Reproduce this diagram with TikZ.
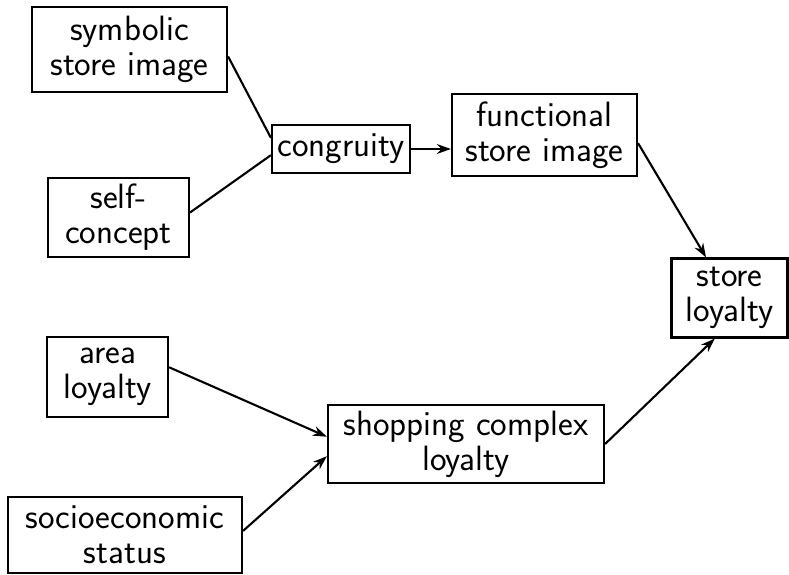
\documentclass[tikz,border=0pt]{standalone}
\usepackage{tikz}
\usetikzlibrary{arrows.meta}

\begin{document}
\begin{tikzpicture}[x=0.025cm,y=-0.025cm,
line width=1.5pt,
link/.style={-{Stealth[length=10pt,width=7pt]}},
]
\tikzstyle{every node}=[rectangle,draw,align=center,inner sep=2pt,
  font=\sffamily\fontsize{25}{25}\selectfont]
\useasboundingbox (0,0) rectangle (789,574);

% boxes
\node[minimum width=4.875cm,minimum height=2.125cm] (symbolic) at (129.5,49.5) {symbolic\\store image};
\node[minimum width=3.525cm,minimum height=1.975cm] (self) at (118.5,217.5) {self-\\concept};
\node[minimum width=3.45cm,minimum height=1.2cm] (congruity) at (341,149) {congruity};
\node[minimum width=4.625cm,minimum height=2.05cm] (functional) at (544.5,135) {functional\\store image};
\node[minimum width=2.9cm,minimum height=1.975cm] (store) at (729.5,298) {store\\loyalty};
\node[minimum width=3.025cm,minimum height=2cm] (area) at (107.5,377) {area\\loyalty};
\node[minimum width=5.85cm,minimum height=1.9cm] (socio) at (125,535) {socioeconomic\\status};
\node[minimum width=6.9cm,minimum height=1.95cm] (shopping) at (466,444) {shopping complex\\loyalty};

% links
\draw (symbolic.-4) -- (congruity.171);
\draw (self.4) -- (congruity.185);
\draw[link] (congruity.east) -- (congruity.east -| functional.west);
\draw[link] (functional.-5) -- (store.120);
\draw[link] (area.9) -- (shopping.177);
\draw[link] (socio.2) -- (shopping.185);
\draw[link] (shopping.east) -- (store.250);
\end{tikzpicture}
\end{document}
